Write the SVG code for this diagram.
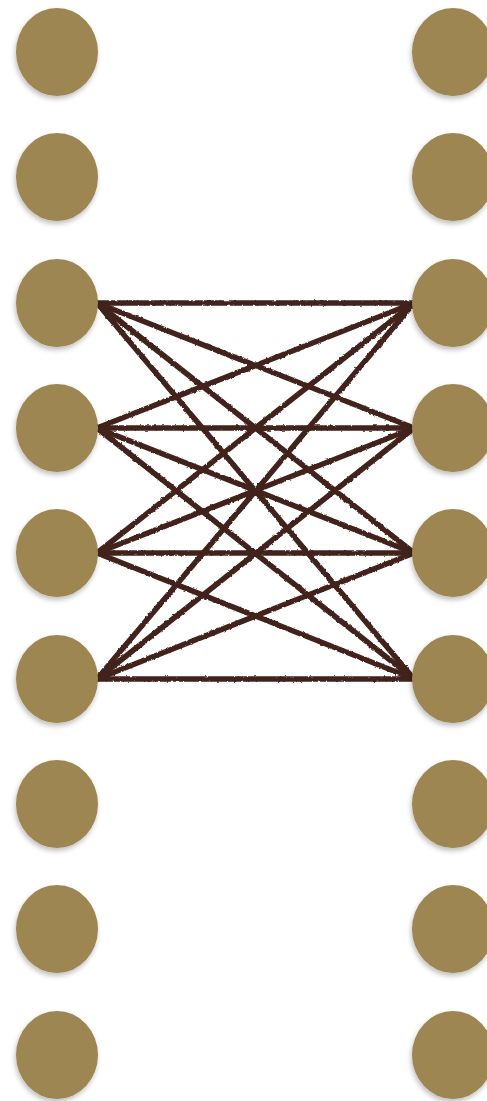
<svg xmlns="http://www.w3.org/2000/svg" width="487" height="1101" viewBox="0 0 487 1101">
<style>
.n{fill:#9d8651;filter:url(#sh)}
.e line{stroke:#43241a;stroke-width:5.5;stroke-linecap:round;fill:none}
</style>
<defs>
<filter id="sh" x="-30%" y="-30%" width="160%" height="160%">
<feDropShadow dx="-1" dy="3" stdDeviation="2.5" flood-color="#000" flood-opacity="0.25"/>
</filter>
<filter id="rough" x="-5%" y="-5%" width="110%" height="110%">
<feTurbulence type="fractalNoise" baseFrequency="0.3" numOctaves="2" seed="3" result="t"/>
<feDisplacementMap in="SourceGraphic" in2="t" scale="2.5" xChannelSelector="R" yChannelSelector="G"/>
</filter>
</defs>
<g class="e" filter="url(#rough)">
<line x1="97" y1="303" x2="414" y2="303"/>
<line x1="97" y1="303" x2="414" y2="428"/>
<line x1="97" y1="303" x2="414" y2="553"/>
<line x1="97" y1="303" x2="414" y2="679"/>
<line x1="97" y1="428" x2="414" y2="303"/>
<line x1="97" y1="428" x2="414" y2="428"/>
<line x1="97" y1="428" x2="414" y2="553"/>
<line x1="97" y1="428" x2="414" y2="679"/>
<line x1="97" y1="553" x2="414" y2="303"/>
<line x1="97" y1="553" x2="414" y2="428"/>
<line x1="97" y1="553" x2="414" y2="553"/>
<line x1="97" y1="553" x2="414" y2="679"/>
<line x1="97" y1="679" x2="414" y2="303"/>
<line x1="97" y1="679" x2="414" y2="428"/>
<line x1="97" y1="679" x2="414" y2="553"/>
<line x1="97" y1="679" x2="414" y2="679"/>
</g>
<g id="L1"><ellipse class="n" cx="57" cy="52" rx="41" ry="44"/></g>
<g id="L2"><ellipse class="n" cx="57" cy="177" rx="41" ry="44"/></g>
<g id="L3"><ellipse class="n" cx="57" cy="303" rx="41" ry="44"/></g>
<g id="L4"><ellipse class="n" cx="57" cy="428" rx="41" ry="44"/></g>
<g id="L5"><ellipse class="n" cx="57" cy="553" rx="41" ry="44"/></g>
<g id="L6"><ellipse class="n" cx="57" cy="679" rx="41" ry="44"/></g>
<g id="L7"><ellipse class="n" cx="57" cy="804" rx="41" ry="44"/></g>
<g id="L8"><ellipse class="n" cx="57" cy="929" rx="41" ry="44"/></g>
<g id="L9"><ellipse class="n" cx="57" cy="1055" rx="41" ry="44"/></g>
<g id="R1"><ellipse class="n" cx="453" cy="52" rx="41" ry="44"/></g>
<g id="R2"><ellipse class="n" cx="453" cy="177" rx="41" ry="44"/></g>
<g id="R3"><ellipse class="n" cx="453" cy="303" rx="41" ry="44"/></g>
<g id="R4"><ellipse class="n" cx="453" cy="428" rx="41" ry="44"/></g>
<g id="R5"><ellipse class="n" cx="453" cy="553" rx="41" ry="44"/></g>
<g id="R6"><ellipse class="n" cx="453" cy="679" rx="41" ry="44"/></g>
<g id="R7"><ellipse class="n" cx="453" cy="804" rx="41" ry="44"/></g>
<g id="R8"><ellipse class="n" cx="453" cy="929" rx="41" ry="44"/></g>
<g id="R9"><ellipse class="n" cx="453" cy="1055" rx="41" ry="44"/></g>
</svg>
